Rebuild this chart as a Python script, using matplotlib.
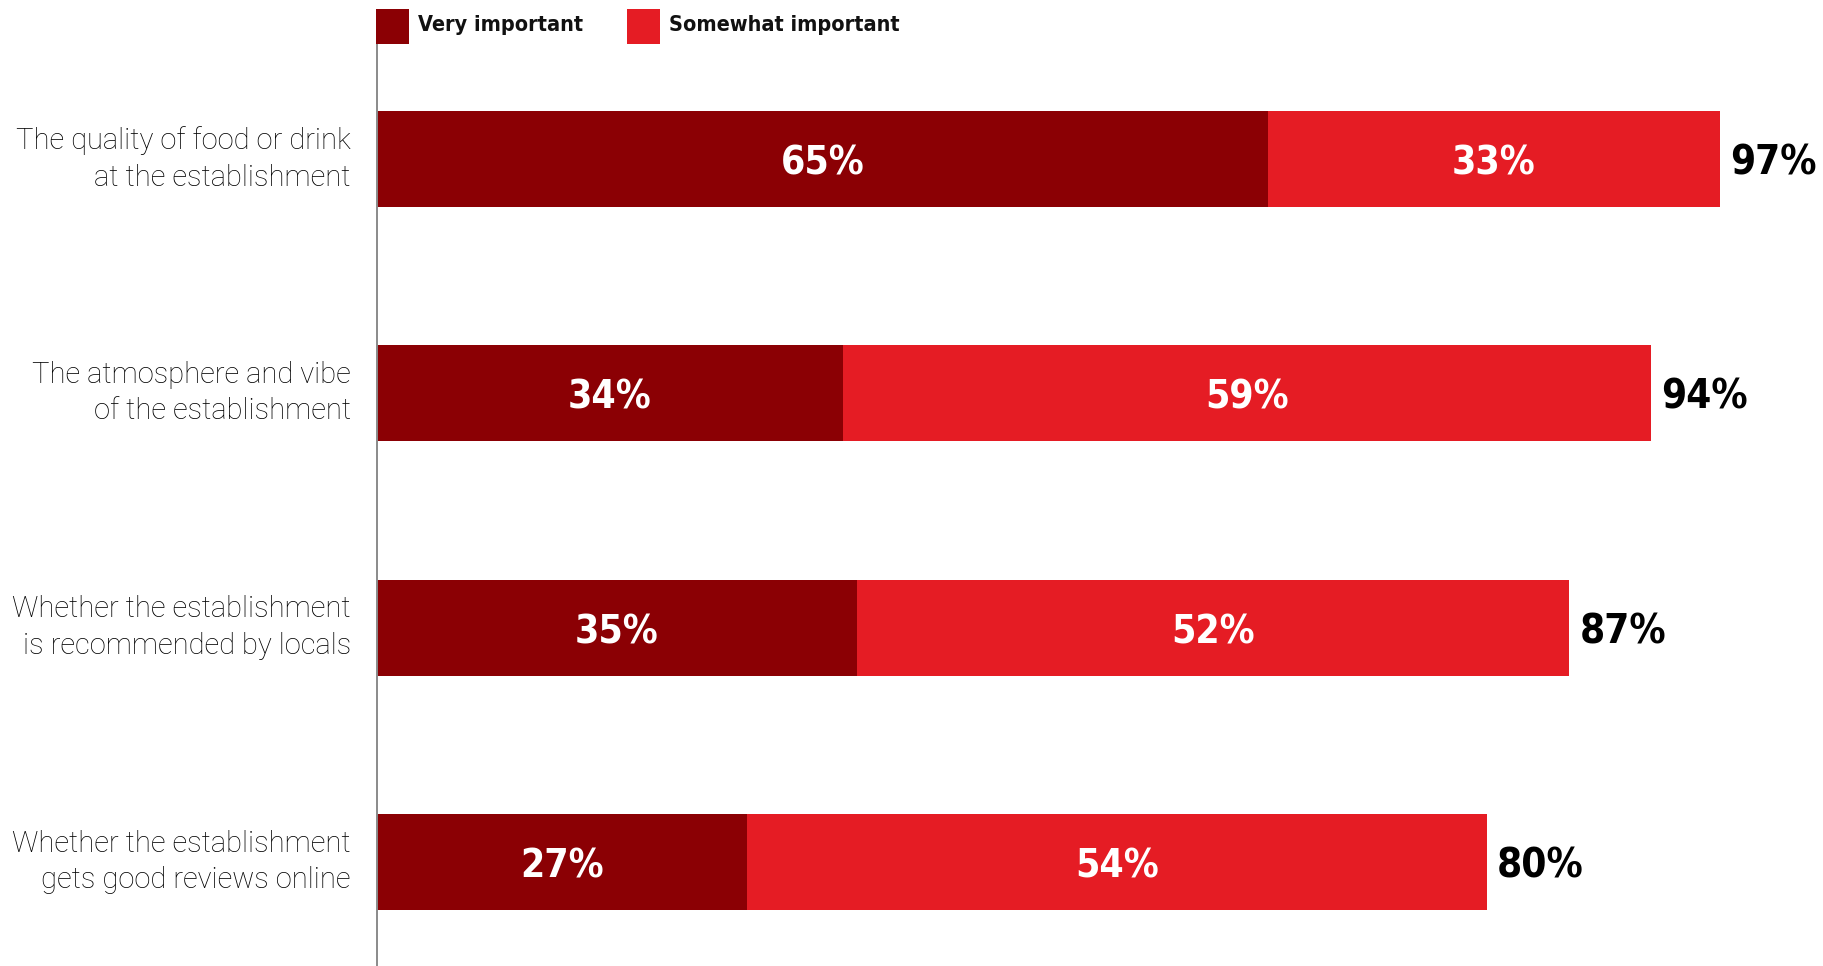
import matplotlib
matplotlib.use("Agg")
import matplotlib.pyplot as plt
from matplotlib.patches import Rectangle

categories = [
    "The quality of food or drink\nat the establishment",
    "The atmosphere and vibe\nof the establishment",
    "Whether the establishment\nis recommended by locals",
    "Whether the establishment\ngets good reviews online",
]
very_important = [65, 34, 35, 27]
somewhat_important = [33, 59, 52, 54]
totals = [97, 94, 87, 80]
series_names = ["Very important", "Somewhat important"]

dark_red = "#8b0004"
bright_red = "#e51c24"

W, H, DPI = 1824, 966, 100
fig = plt.figure(figsize=(W / DPI, H / DPI), dpi=DPI)

# axes placed in pixels: left edge at x=377, top at y=43
ax_left = 377 / W
ax_top = 1 - 43 / H
ax = fig.add_axes([ax_left, 0, 1 - ax_left, ax_top])
ax.set_xlim(0, 105.6)
ax.set_ylim(3.444, -0.495)

y = list(range(len(categories)))
ax.barh(y, very_important, height=0.41, color=dark_red, linewidth=0)
ax.barh(y, somewhat_important, left=very_important, height=0.41,
        color=bright_red, linewidth=0)

bold = dict(fontweight="bold", family="DejaVu Sans", fontstretch="condensed")
dy = 0.02  # nudge so the digits look centred in the bar
for i in y:
    v = very_important[i]
    s = somewhat_important[i]
    ax.text(v / 2, i + dy, "{}%".format(v), ha="center", va="center",
            color="white", fontsize=28, **bold)
    ax.text(v + s / 2, i + dy, "{}%".format(s), ha="center", va="center",
            color="white", fontsize=28, **bold)
    ax.text(v + s + 0.75, i + dy, "{}%".format(totals[i]), ha="left",
            va="center", color="black", fontsize=29, **bold)
    ax.text(-1.9, i, categories[i], ha="right", va="center",
            color="black", fontsize=21, family="Roboto", fontweight="light",
            linespacing=1.38)

for side in ["top", "right", "bottom"]:
    ax.spines[side].set_visible(False)
ax.spines["left"].set_color("#8a8a8a")
ax.spines["left"].set_linewidth(1.4)
ax.set_xticks([])
ax.set_yticks([])

# legend drawn in figure pixels, second entry follows the first text
renderer = fig.canvas.get_renderer()
lx = 376
for col, name in zip([dark_red, bright_red], series_names):
    fig.patches.append(Rectangle((lx / W, 1 - 44 / H), 33 / W, 35 / H,
                                 transform=fig.transFigure, color=col,
                                 linewidth=0))
    t = fig.text((lx + 42) / W, 1 - 25 / H, name, ha="left", va="center",
                 fontsize=15.5, color="#111111", **bold)
    lx = t.get_window_extent(renderer).x1 + 44

fig.savefig("out.png", dpi=DPI)
